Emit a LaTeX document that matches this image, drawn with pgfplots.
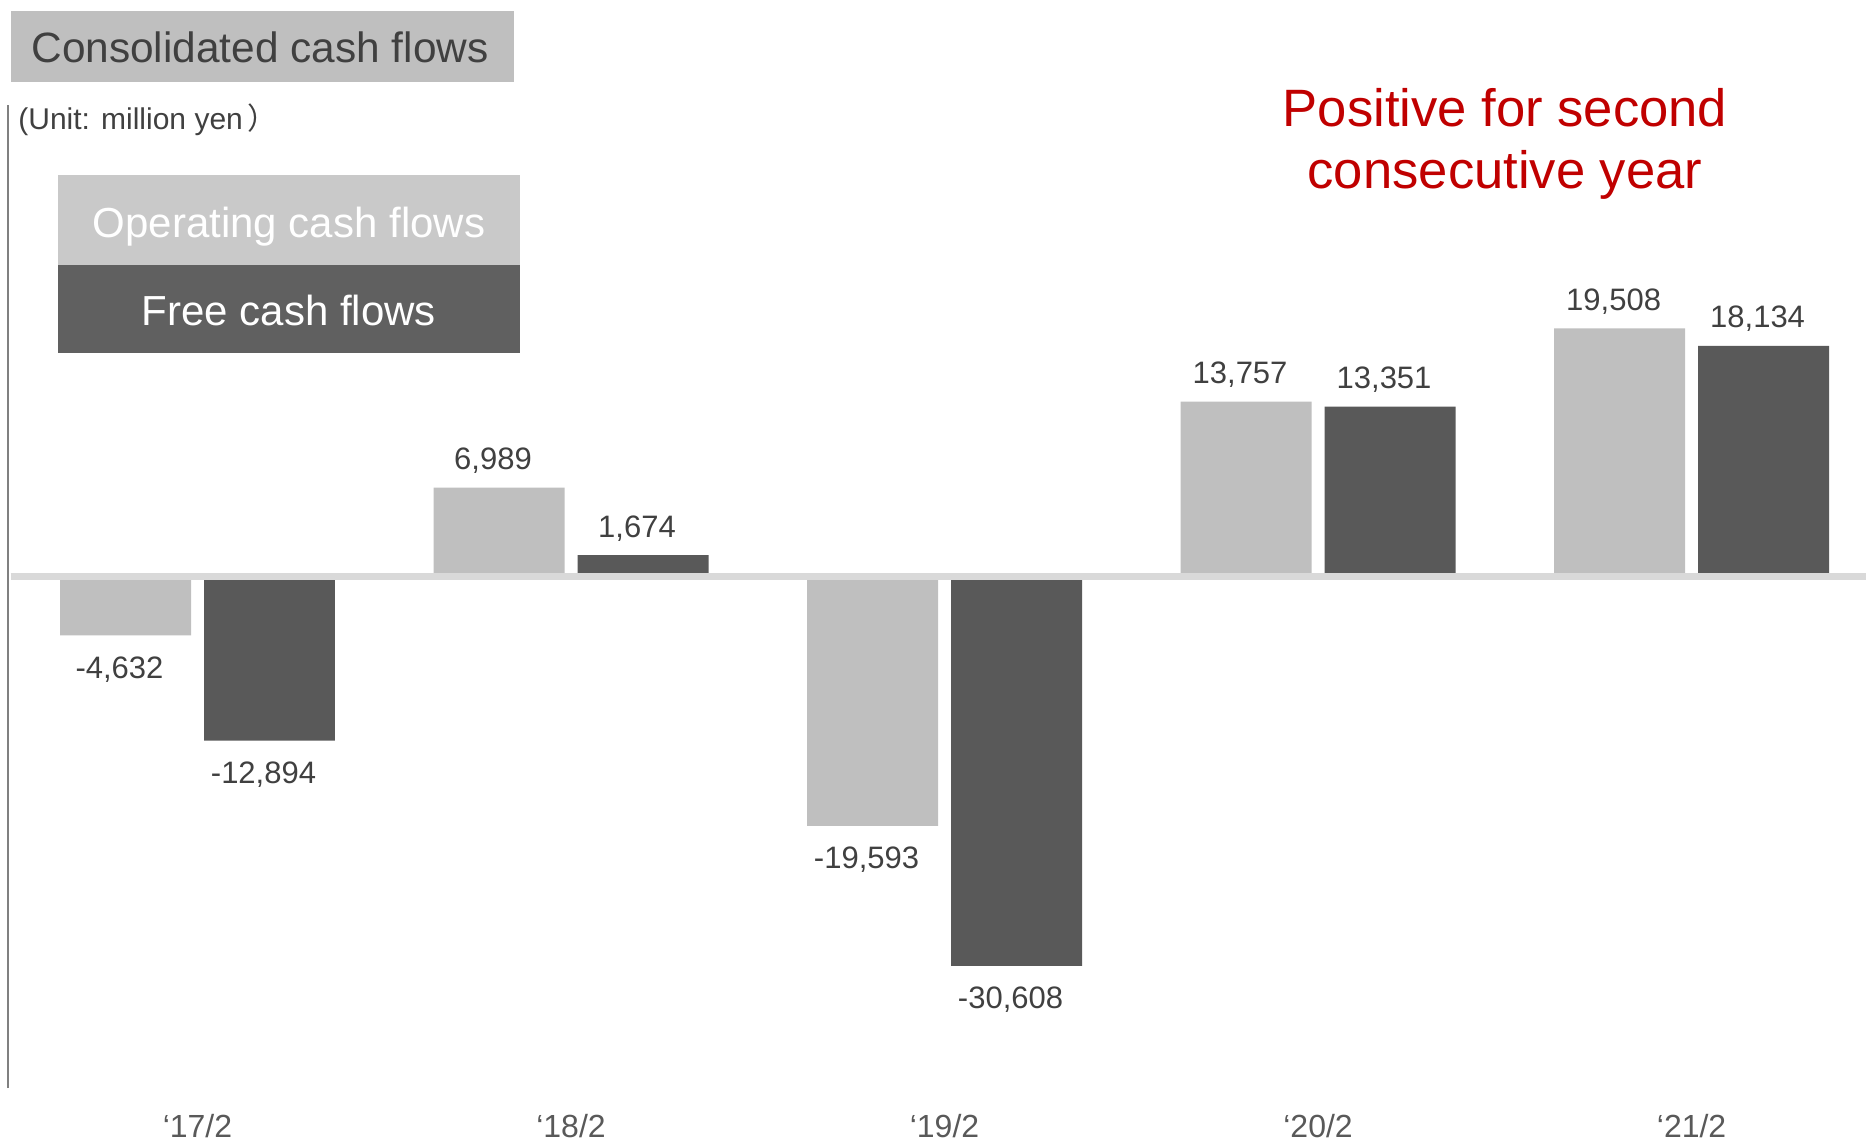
\documentclass[border=0pt]{standalone}
\usepackage{pgfplots}
\pgfplotsset{compat=1.18}
\usepackage{pgfplotstable}
\usepackage{fontspec}
\setmainfont{Liberation Sans}
\newfontfamily\cjk{Noto Sans CJK JP}
\definecolor{lightbar}{HTML}{BFBFBF}
\definecolor{darkbar}{HTML}{595959}
\definecolor{legtop}{HTML}{C9C9C9}
\definecolor{legbot}{HTML}{606060}
\definecolor{titlebox}{HTML}{BFBFBF}
\definecolor{txtgray}{HTML}{404040}
\definecolor{tickgray}{HTML}{595959}
\definecolor{redtxt}{HTML}{C00000}
\definecolor{zeroline}{HTML}{D9D9D9}
\definecolor{leftline}{HTML}{808080}

\pgfplotstableread{
x y
0 -4632
1 6989
2 -19593
3 13757
4 19508
}\ocf
\pgfplotstableread{
x y
0 -12894
1 1674
2 -30608
3 13351
4 18134
}\fcf

\begin{document}
\begin{tikzpicture}[x=1pt,y=1pt]
\path[use as bounding box] (0,0) rectangle (933,570.5);
\begin{axis}[
  at={(4.25pt,26.5pt)}, anchor=south west,
  scale only axis, width=928.75pt, height=491.5pt,
  xmin=-0.506, xmax=4.467, ymin=-40210, ymax=37070,
  clip=false,
  ybar=6.5pt, bar width=0.3507,
  axis line style={draw=none},
  major tick length=0pt,
  ytick=\empty,
  xtick={0,1,2,3,4},
  xticklabels={{‘17/2},{‘18/2},{‘19/2},{‘20/2},{‘21/2}},
  xticklabel style={anchor=base, yshift=-24.5pt, font=\fontsize{16}{19}\selectfont, text=tickgray},
  nodes near coords,
  point meta=y,
  nodes near coords={\pgfmathprintnumber[fixed,precision=0,1000 sep={,},assume math mode=true]{\pgfplotspointmeta}},
  every node near coord/.append style={font=\fontsize{15.5}{18}\selectfont, text=txtgray, inner sep=8.7pt, xshift=-3pt, yshift=-1.8pt},
]
\addplot[fill=lightbar, draw=none] table[x=x, y=y]{\ocf};
\addplot[fill=darkbar, draw=none] table[x=x, y=y]{\fcf};
\draw[zeroline, line width=3.5pt] (axis cs:-0.5,0) -- (axis cs:4.467,0);
\draw[leftline, line width=1pt] (rel axis cs:0,0) -- (rel axis cs:0,1);
\end{axis}
% title box
\fill[titlebox] (5.5,529.5) rectangle (257,565);
\node[anchor=base west, inner sep=0pt, text=txtgray, font=\fontsize{21.2}{25}\selectfont] at (15.5,539) {Consolidated cash flows};
% unit
\node[anchor=base west, inner sep=0pt, text=txtgray, font=\fontsize{15}{18}\selectfont] at (9,505.5) {(Unit: million yen\,{\cjk ）}};
% legend
\fill[legtop] (29,438) rectangle (260,483);
\fill[legbot] (29,394) rectangle (260,438);
\node[anchor=base, inner sep=0pt, text=white, font=\fontsize{21}{25}\selectfont] at (144.5,451.6) {Operating cash flows};
\node[anchor=base, inner sep=0pt, text=white, font=\fontsize{21}{25}\selectfont] at (144.5,407.5) {Free cash flows};
% red annotation
\node[anchor=base, inner sep=0pt, text=redtxt, font=\fontsize{26.3}{30}\selectfont] at (752.5,507) {Positive for second};
\node[anchor=base, inner sep=0pt, text=redtxt, font=\fontsize{26.3}{30}\selectfont] at (752.5,476) {consecutive year};
\end{tikzpicture}
\end{document}
